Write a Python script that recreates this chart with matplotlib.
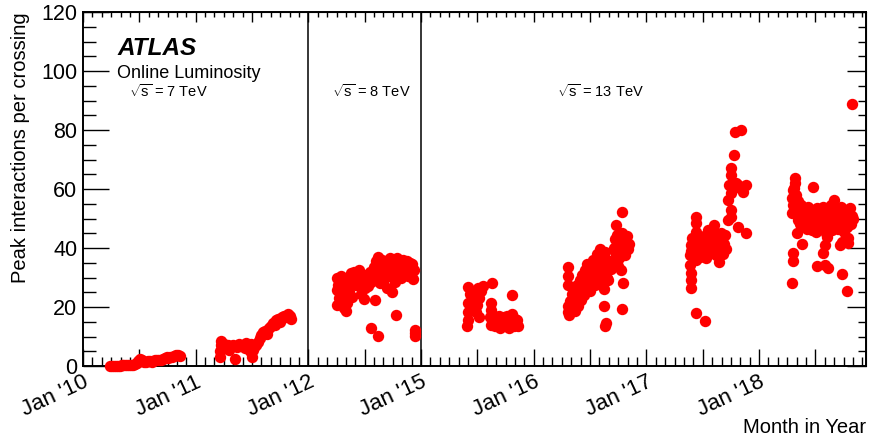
import matplotlib
matplotlib.use("Agg")
import matplotlib.pyplot as plt
from matplotlib.ticker import MultipleLocator

plt.rcParams['font.family'] = ['Liberation Sans', 'DejaVu Sans']
plt.rcParams['mathtext.fontset'] = 'custom'
plt.rcParams['mathtext.rm'] = 'Liberation Sans'
plt.rcParams['mathtext.it'] = 'Liberation Sans:italic'

# years shown on the (compressed) time axis, 2013-2014 are skipped
years = [2010, 2011, 2012, 2015, 2016, 2017, 2018]

# month of year (0 = 1 Jan) and peak mu
month_2010 = [2.9, 3.1, 3.3, 3.5, 3.7, 3.9, 4.1, 4.3, 4.5, 4.7, 4.9, 5.1, 5.3, 5.5, 5.7, 5.9, 6.1, 6.3,
              6.5, 6.7, 6.9, 7.1, 7.3, 7.5, 7.7, 7.9, 8.1, 8.3, 8.5, 8.7, 8.9, 9.1, 9.3, 9.5, 9.7, 9.9,
              10.1, 10.3]
mu_2010 = [0.0, 0.0, 0.0, 0.1, 0.1, 0.1, 0.2, 0.2, 0.2, 0.3, 0.3, 0.4, 0.5, 0.6, 0.9, 1.6, 2.4, 2.0,
           1.4, 1.5, 1.6, 1.8, 1.5, 1.7, 1.9, 2.0, 2.1, 1.9, 2.5, 2.7, 2.9, 2.7, 3.0, 3.1, 3.3, 3.6,
           3.8, 3.5]

month_2011 = [2.6, 2.6, 2.7, 2.7, 2.8, 3.0, 3.2, 3.4, 3.6, 3.8, 4.0, 4.2, 4.4, 4.6, 4.8, 5.0, 5.2, 5.4,
              5.6, 5.8, 5.9, 6.0, 6.1, 6.2, 6.4, 6.6, 6.8, 7.0, 7.2, 7.4, 7.6, 7.8, 8.0, 8.2, 8.4, 8.6,
              8.8, 9.0, 9.2, 9.4, 9.6, 9.8, 10.0, 10.2]
mu_2011 = [3.0, 5.0, 7.0, 8.5, 6.0, 7.5, 6.5, 7.0, 5.5, 6.8, 7.2, 2.3, 6.5, 7.5, 6.8, 7.0, 6.2, 7.8,
           6.0, 5.0, 7.5, 3.2, 5.5, 6.5, 7.0, 8.0, 9.5, 10.5, 11.5, 12.0, 11.0, 13.0, 13.5, 14.5,
           14.0, 15.5, 16.0, 15.0, 16.5, 17.0, 16.5, 17.5, 17.0, 16.0]

month_2012 = [3.1, 3.1, 3.1, 3.2, 3.3, 3.5, 3.5, 3.6, 3.8, 3.8, 3.9, 4.0, 4.1, 4.2, 4.3, 4.4, 4.5, 4.6,
              4.8, 4.9, 5.1, 5.2, 5.4, 5.5, 5.6, 5.8, 5.9, 6.0, 6.1, 6.3, 6.4, 6.6, 6.7, 6.9, 7.0, 7.1,
              7.2, 7.3, 7.4, 7.5, 7.6, 7.7, 7.8, 7.9, 8.0, 8.1, 8.2, 8.3, 8.4, 8.5, 8.6, 8.7, 8.8, 8.9,
              9.0, 9.1, 9.2, 9.3, 9.4, 9.5, 9.6, 9.7, 9.8, 9.9, 10.0, 10.1, 10.2, 10.3, 10.4, 10.5,
              10.6, 10.7, 10.8, 10.9, 11.0, 11.1, 11.2,
              6.7, 7.4, 9.3, 11.4, 11.4, 11.4]
mu_2012 = [29.8, 25.8, 20.7, 27.5, 23.0, 30.5, 22.0, 26.0, 19.5, 24.5, 28.0, 18.5, 21.5, 30.0, 25.0,
           27.0, 31.5, 23.5, 29.0, 32.0, 27.5, 31.0, 32.5, 28.5, 24.5, 30.0, 22.7, 26.5, 31.0, 29.0,
           27.0, 32.0, 28.5, 30.5, 33.5, 22.4, 35.5, 30.0, 37.0, 32.5, 28.0, 34.0, 36.0, 31.0, 33.0,
           29.5, 35.0, 32.0, 26.5, 34.5, 30.5, 36.5, 33.0, 25.0, 31.5, 35.0, 28.5, 33.5, 36.5, 31.0,
           34.0, 32.0, 35.5, 30.0, 33.5, 36.0, 31.5, 34.0, 32.0, 35.5, 30.5, 33.0, 35.0, 31.0, 34.5,
           29.5, 32.5,
           12.9, 10.2, 17.3, 12.2, 10.2, 11.2]

month_2015 = [5.0, 5.0, 5.0, 5.0, 4.9, 5.2, 5.3, 5.5, 5.7, 5.9, 6.1, 6.2, 6.0, 6.2, 6.4, 6.6, 7.6, 7.4,
              7.5, 7.3, 7.4, 7.6, 7.8, 7.9, 8.0, 8.2, 8.3, 8.4, 8.5, 8.7, 8.8, 8.9, 9.0, 9.2, 9.3, 9.4,
              9.5, 9.6, 9.7, 9.8, 9.9, 10.0, 10.1, 10.2, 10.3, 9.7]
mu_2015 = [26.8, 21.4, 18.3, 15.6, 13.5, 24.5, 19.5, 24.0, 21.0, 18.3, 26.4, 23.0, 20.7, 16.6, 25.5,
           27.0, 28.1, 21.4, 19.0, 16.5, 14.0, 17.5, 15.0, 13.5, 16.0, 14.5, 17.0, 13.0, 15.5, 14.0,
           16.5, 13.5, 15.0, 17.0, 14.5, 13.0, 16.0, 15.0, 17.5, 14.0, 13.5, 16.0, 14.5, 15.5, 13.5,
           24.0]

month_2016 = [3.6, 3.6, 3.7, 3.6, 3.6, 3.8, 3.9, 4.0, 4.1, 4.2, 4.3, 4.4, 4.5, 4.6, 4.7, 4.8, 4.9, 5.0,
              5.1, 5.2, 5.3, 5.4, 5.5, 5.6, 5.7, 5.8, 5.9, 6.0, 6.1, 6.2, 6.3, 6.4, 6.5, 6.6, 6.7, 6.8,
              6.9, 7.0, 7.1, 7.2, 7.3, 7.4, 7.5, 7.6, 7.7, 7.8, 7.5, 7.5, 7.6, 7.7, 7.9, 8.0, 8.2, 8.5,
              8.6, 8.7, 8.8, 8.9, 9.0, 9.1, 9.2, 9.3, 9.4, 9.5, 9.6, 9.7, 9.8, 9.9, 10.0, 10.1, 8.8,
              9.4, 9.4, 9.5, 9.3, 9.0]
mu_2016 = [33.6, 30.5, 27.5, 18.3, 20.5, 17.3, 22.0, 19.5, 24.5, 21.0, 26.5, 18.5, 23.0, 27.5, 20.5,
           25.0, 29.0, 22.5, 31.0, 26.0, 28.5, 24.0, 32.5, 29.0, 34.5, 27.0, 31.0, 25.5, 33.0, 29.5,
           36.0, 31.5, 27.5, 34.0, 38.0, 30.5, 35.0, 32.5, 39.5, 33.0, 29.0, 36.5, 31.5, 38.5, 34.0,
           30.0, 26.0, 20.3, 13.6, 14.6, 29.2, 35.5, 33.0, 36.0, 40.0, 43.0, 38.0, 44.5, 41.0, 36.5,
           42.5, 39.0, 45.0, 43.0, 40.5, 37.5, 42.0, 44.0, 39.5, 41.5, 47.8, 52.2, 19.3, 28.1, 32.5,
           34.0]

month_2017 = [5.3, 6.2, 4.8, 4.8, 4.8, 4.6, 4.6, 4.8, 5.3, 5.3, 5.3, 4.7, 4.9,
              5.1, 5.3, 5.4, 5.5, 5.6, 5.7, 5.8, 5.9, 6.0, 6.1, 6.2, 6.3, 6.4, 6.5, 6.6, 6.7, 6.8, 6.9,
              7.0, 7.1, 7.2, 7.3, 7.4, 7.5, 7.6, 7.7, 7.8, 7.9, 8.0, 8.1, 8.2, 8.3, 8.4, 8.5,
              8.7, 8.7, 8.8, 9.05, 9.05, 9.05, 9.05, 9.0, 9.3, 9.4, 10.1, 9.8, 10.65, 10.3, 10.0, 9.5,
              9.8, 10.65]
mu_2017 = [18.0, 15.3, 26.4, 29.2, 31.5, 34.2, 37.6, 41.0, 45.4, 48.5, 50.5, 39.0, 43.5,
           38.5, 36.0, 41.0, 39.0, 43.5, 37.0, 40.5, 42.0, 38.0, 44.0, 40.0, 36.5, 42.5, 39.5, 46.0,
           41.0, 43.5, 38.5, 45.0, 40.5, 47.8, 42.0, 37.5, 44.0, 39.5, 35.3, 42.5, 45.0, 40.0, 43.0,
           38.0, 41.5, 44.5, 39.5,
           49.5, 56.3, 61.4, 64.7, 67.1, 52.9, 50.5, 58.5, 71.5, 79.3, 80.0, 61.4, 61.4, 59.0, 60.5,
           62.0, 47.1, 45.0]

month_2018 = [9.9, 3.8, 3.8, 3.6, 3.5, 3.6, 3.5, 3.7, 3.9, 3.9,
              4.0, 4.1, 4.2, 4.3, 4.4, 4.5, 4.6, 4.7, 4.8, 4.9, 5.0, 5.1, 5.2, 5.3, 5.4, 5.5, 5.6, 5.8,
              5.9, 6.0, 6.1, 6.2, 6.3, 6.4, 6.5, 6.6, 6.7, 6.8, 6.9, 7.0, 7.1, 7.2, 7.3, 7.4, 7.5, 7.6,
              7.7, 7.8, 7.9, 8.0, 8.1, 8.2, 8.3, 8.4, 8.5, 8.6, 8.7, 8.8, 8.9, 9.0, 9.1, 9.2, 9.3, 9.4,
              9.5, 9.6, 9.7, 9.8, 9.9, 10.0,
              5.7, 4.0, 4.6, 3.6, 3.6, 3.5, 6.2, 7.0, 7.3, 8.8, 9.4, 6.8, 7.0, 7.2, 8.6, 8.8, 9.5, 9.5]
mu_2018 = [88.8, 63.7, 62.0, 59.7, 57.0, 54.6, 51.9, 60.5, 58.0, 55.5,
           53.0, 49.5, 56.0, 51.5, 48.0, 54.5, 50.5, 47.5, 53.5, 49.0, 51.5, 46.5, 54.0, 48.5, 52.0,
           50.0, 46.0, 53.0, 48.0, 51.0, 45.5, 53.5, 49.5, 47.0, 52.0, 50.0, 46.5, 54.0, 48.5, 51.5,
           45.0, 53.0, 49.0, 47.0, 52.5, 50.0, 54.5, 46.0, 51.0, 56.3, 48.5, 53.0, 50.5, 46.5, 52.0,
           49.0, 54.0, 47.5, 51.5, 45.5, 53.0, 49.5, 51.0, 47.0, 52.5, 49.0, 53.5, 48.0, 51.0, 50.0,
           60.7, 45.0, 41.4, 38.3, 35.6, 28.1, 34.0, 34.2, 33.2, 31.2, 25.4, 38.3, 41.0, 43.7, 41.0,
           42.0, 43.4, 41.7]

months = [month_2010, month_2011, month_2012, month_2015, month_2016, month_2017, month_2018]
mus = [mu_2010, mu_2011, mu_2012, mu_2015, mu_2016, mu_2017, mu_2018]

tick_labels = ["Jan '10", "", "Jan '11", "", "Jan '12", "", "Jan '15", "",
               "Jan '16", "", "Jan '17", "", "Jan '18", ""]
energies = [r"$\sqrt{\mathrm{s}}$ = 7 TeV", r"$\sqrt{\mathrm{s}}$ = 8 TeV", r"$\sqrt{\mathrm{s}}$ = 13 TeV"]

fig = plt.figure(figsize=(8.73, 4.38), dpi=100)
ax = fig.add_axes([0.0951, 0.1644, 0.897, 0.808])

for i, (m, mu) in enumerate(zip(months, mus)):
    x = [12 * i + v for v in m]
    ax.plot(x, mu, "o", color="#ff0000", markersize=8.2, markeredgewidth=0, clip_on=False, zorder=3)

# run boundaries
ax.axvline(24, color="black", lw=1.1, zorder=2)
ax.axvline(36, color="black", lw=1.1, zorder=2)

ax.set_xlim(0, 83.4)
ax.set_ylim(0, 120)
ax.set_xticks(range(0, 84, 6))
ax.set_xticklabels(tick_labels, rotation=25, ha="right", va="top", rotation_mode="anchor")
ax.xaxis.set_minor_locator(MultipleLocator(1))
ax.yaxis.set_major_locator(MultipleLocator(20))
ax.yaxis.set_minor_locator(MultipleLocator(5))

ax.tick_params(axis="x", which="major", direction="in", length=12, width=1, labelsize=16, pad=4)
ax.tick_params(axis="x", which="minor", direction="in", length=6.5, width=1)
ax.tick_params(axis="y", which="major", direction="in", length=19, width=1, labelsize=15.5, pad=4)
ax.tick_params(axis="y", which="minor", direction="in", length=9.5, width=1)
for s in ax.spines.values():
    s.set_linewidth(1.4)

# ticks on the other two sides are shorter
secx = ax.secondary_xaxis("top")
secx.xaxis.set_major_locator(MultipleLocator(6))
secx.xaxis.set_minor_locator(MultipleLocator(1))
secx.tick_params(which="major", direction="in", length=7, width=1, labeltop=False)
secx.tick_params(which="minor", direction="in", length=3.6, width=1)
secy = ax.secondary_yaxis("right")
secy.yaxis.set_major_locator(MultipleLocator(20))
secy.yaxis.set_minor_locator(MultipleLocator(5))
secy.tick_params(which="major", direction="in", length=13.5, width=1, labelright=False)
secy.tick_params(which="minor", direction="in", length=6, width=1)

ax.set_ylabel("Peak interactions per crossing", fontsize=14.5, loc="top")
ax.yaxis.set_label_coords(-0.068, 1.0)
ax.set_xlabel("Month in Year", fontsize=14.5, ha="right")
ax.xaxis.set_label_coords(1.0, -0.147)

ax.text(0.0434, 0.8785, "ATLAS", transform=ax.transAxes, fontsize=17.5,
        fontweight="bold", fontstyle="italic", va="baseline")
ax.text(0.0434, 0.8136, "Online Luminosity", transform=ax.transAxes, fontsize=13, va="baseline")
ax.text(0.0587, 0.760, energies[0], transform=ax.transAxes, fontsize=10.5, va="baseline")
ax.text(0.318, 0.760, energies[1], transform=ax.transAxes, fontsize=10.5, va="baseline")
ax.text(0.605, 0.760, energies[2], transform=ax.transAxes, fontsize=10.5, va="baseline")

fig.savefig("out.png", dpi=100)
